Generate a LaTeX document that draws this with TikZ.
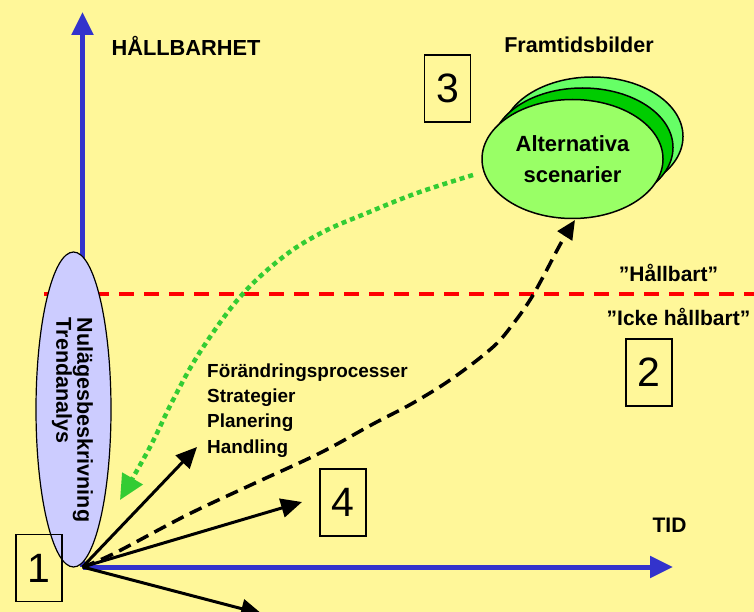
\documentclass[tikz,border=0pt]{standalone}
\usepackage{fontspec}
\setmainfont{Liberation Sans}
\usetikzlibrary{arrows.meta,shapes.geometric}
\definecolor{bg}{RGB}{255,247,153}
\definecolor{axisblue}{RGB}{51,51,204}
\definecolor{lav}{RGB}{204,204,255}
\definecolor{gback}{RGB}{102,255,102}
\definecolor{gmid}{RGB}{0,204,0}
\definecolor{gfront}{RGB}{153,255,102}
\definecolor{gdot}{RGB}{51,204,51}
\begin{document}
\begin{tikzpicture}[x=1pt,y=-1pt,
  axis/.style={draw=axisblue,line width=5pt,-{Triangle[length=23pt,width=21pt]}},
  blackarrow/.style={draw=black,line width=3pt,-{Triangle[length=21pt,width=19pt]}},
  blackdash/.style={draw=black,line width=3.5pt,dash pattern=on 13pt off 7pt,-{Triangle[length=19pt,width=17pt]}},
  greendots/.style={draw=gdot,line width=4.5pt,dash pattern=on 5pt off 4pt,-{Triangle[length=25pt,width=23pt,fill=gdot]}},
  reddash/.style={draw=red,line width=4pt,dash pattern=on 15pt off 10pt},
  numbox/.style={draw=black,line width=1.5pt,minimum width=46pt,minimum height=67pt,inner sep=0pt,font=\fontsize{41}{41}\selectfont},
  greenell/.style={ellipse,draw=black,line width=1.5pt,minimum width=181pt,minimum height=119pt,inner sep=0pt},
  lbl/.style={font=\bfseries\fontsize{21}{24}\selectfont,inner sep=0pt},
  proc/.style={font=\bfseries\fontsize{18.9}{22}\selectfont,inner sep=0pt,anchor=base west}
]
\useasboundingbox (0,0) rectangle (754,612);
\fill[bg] (0,0) rectangle (754,612);
\clip (0,0) rectangle (754,612);

% key coordinates
\coordinate (O) at (82.5,567);
\coordinate (ytip) at (82.5,12);
\coordinate (xtip) at (673,567);
\coordinate (rl) at (44,294);
\coordinate (rr) at (754,294);

% red dashed boundary
\draw[reddash] (rl) -- (rr);

% axes
\draw[axis] (O) -- (ytip);
\draw[axis] (O) -- (xtip);

% left ellipse
\node[ellipse,draw=black,line width=1.2pt,fill=lav,minimum width=75pt,minimum height=315pt,inner sep=0pt] (now) at (73.5,409.5) {};
\node[rotate=-90,align=left,inner sep=0pt,font=\bfseries\fontsize{21.5}{21}\selectfont] (nowtxt) at (72.5,420) {Nulägesbeskrivning\\Trendanalys};

% number boxes
\node[numbox] (b1) at (39,568) {1};
\node[numbox] (b2) at (649,372.5) {2};
\node[numbox] (b3) at (447.5,88.5) {3};
\node[numbox] (b4) at (343,502.5) {4};

% future scenario ellipses
\node[greenell,fill=gback] (e3) at (592.5,136.5) {};
\node[greenell,fill=gmid] (e2) at (582.5,147.5) {};
\node[greenell,fill=gfront,align=center,font=\bfseries\fontsize{22}{31}\selectfont] (e1) at (572.5,159) {Alternativa\\scenarier};

% labels
\node[lbl,font=\bfseries\fontsize{21.8}{24}\selectfont] (hb) at (186,46) {HÅLLBARHET};
\node[lbl,font=\bfseries\fontsize{21.5}{24}\selectfont] (ft) at (579,45) {Framtidsbilder};
\node[lbl] (hall) at (668.5,273) {”Hållbart”};
\node[lbl] (icke) at (678.5,317) {”Icke hållbart”};
\node[lbl] (tid) at (669.5,525.5) {TID};
\node[proc] (p1) at (207,377) {Förändringsprocesser};
\node[proc] (p2) at (207,402.3) {Strategier};
\node[proc] (p3) at (207,427.6) {Planering};
\node[proc] (p4) at (207,453) {Handling};

% black arrows from origin
\coordinate (a1) at (197,447);
\coordinate (a2) at (302,502);
\coordinate (a3) at (262,614);
\draw[blackarrow] (O) -- (a1);
\draw[blackarrow] (O) -- (a2);
\draw[blackarrow] (O) -- (a3);

% dashed path to scenarios
\coordinate (dtip) at (575,220);
\draw[blackdash] plot[smooth,tension=0.6] coordinates {(O) (115,553) (187,515) (253,484) (320,453) (373,424) (413,403) (453,378) (493,347) (513,324) (530,300) (543,277) (561,243) (dtip)};

% green dotted path back to now
\coordinate (gs) at (473,175);
\coordinate (gt) at (120,500);
\draw[greendots] plot[smooth,tension=0.6] coordinates {(gs) (417,193) (367,213) (323,232) (283,257) (240,297) (200,352) (173,400) (150,447) (gt)};
\end{tikzpicture}
\end{document}
